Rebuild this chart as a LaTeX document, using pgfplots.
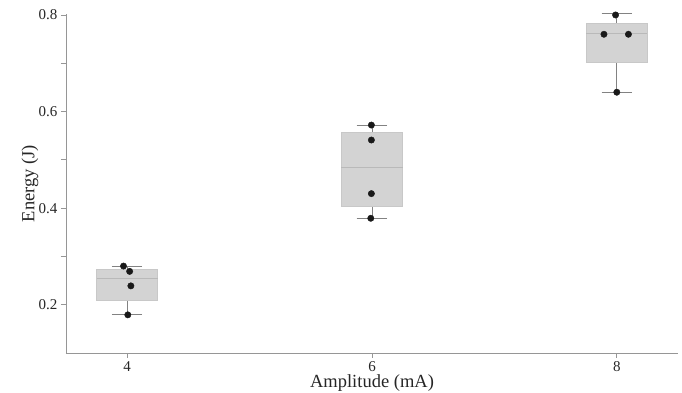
\documentclass[border=0pt]{standalone}
\usepackage{pgfplots}
\pgfplotsset{compat=1.18}
\usepgfplotslibrary{statistics}
\usetikzlibrary{calc}
\usepackage{fontspec}
\setmainfont{Liberation Serif}
\definecolor{boxfill}{RGB}{211,211,211}
\definecolor{boxedge}{RGB}{200,200,200}
\definecolor{medc}{RGB}{185,185,185}
\definecolor{whc}{RGB}{130,130,130}
\definecolor{axc}{RGB}{150,150,150}
\definecolor{ptc}{RGB}{25,25,25}
\begin{document}
\begin{tikzpicture}
\begin{axis}[
  scale only axis,
  width=612pt, height=339pt,
  xmin=3.5, xmax=8.5,
  ymin=0.1, ymax=0.802,
  axis x line*=bottom, axis y line*=left,
  axis line style={color=axc, line width=0.8pt},
  tick style={color=axc, line width=0.8pt},
  tick align=outside,
  major tick length=5pt, minor tick length=5pt,
  xtick={4,6,8},
  xticklabels={4,6,8},
  ytick={0.2,0.4,0.6,0.8},
  yticklabels={0.2,0.4,0.6,0.8},
  minor ytick={0.3,0.5,0.7},
  tick label style={font=\fontsize{15}{17}\selectfont, color=black!85},
  label style={font=\fontsize{18.5}{21}\selectfont, color=black!85},
  xlabel={Amplitude (mA)},
  ylabel={Energy (J)},
  x label style={at={(axis description cs:0.5,-0.09)}, anchor=center},
  y label style={at={(axis description cs:-0.059,0.5)}, anchor=center},
  boxplot/draw direction=y,
  boxplot/box extend=0.5,
  boxplot/whisker extend=0.25,
  clip=false,
]
\coordinate (bl) at (rel axis cs:0,0);
\coordinate (tr) at (rel axis cs:1,1);
% Amplitude 4
\addplot[fill=boxfill, draw=boxedge, line width=0.8pt,
  boxplot prepared={draw position=4, lower whisker=0.179, lower quartile=0.208,
    median=0.254, upper quartile=0.274, upper whisker=0.280},
  boxplot/every whisker/.style={draw=whc, line width=1pt},
  boxplot/every median/.style={draw=medc, line width=1pt}] coordinates {};
% Amplitude 6
\addplot[fill=boxfill, draw=boxedge, line width=0.8pt,
  boxplot prepared={draw position=6, lower whisker=0.379, lower quartile=0.4035,
    median=0.485, upper quartile=0.557, upper whisker=0.572},
  boxplot/every whisker/.style={draw=whc, line width=1pt},
  boxplot/every median/.style={draw=medc, line width=1pt}] coordinates {};
% Amplitude 8
\addplot[fill=boxfill, draw=boxedge, line width=0.8pt,
  boxplot prepared={draw position=8, lower whisker=0.640, lower quartile=0.702,
    median=0.761, upper quartile=0.783, upper whisker=0.802},
  boxplot/every whisker/.style={draw=whc, line width=1pt},
  boxplot/every median/.style={draw=medc, line width=1pt}] coordinates {};
% points
\addplot[only marks, mark=*, mark size=3.2pt, color=ptc] coordinates {
  (3.97,0.280) (4.02,0.269) (4.03,0.239) (4.005,0.179)
  (5.995,0.572) (5.995,0.541) (5.995,0.430) (5.99,0.379)
  (7.99,0.800) (7.895,0.760) (8.095,0.760) (8.00,0.640)
};
\end{axis}
\pgfresetboundingbox
\path ($(bl)+(-66pt,-40pt)$) rectangle ($(tr)+(4pt,14pt)$);
\end{tikzpicture}
\end{document}
